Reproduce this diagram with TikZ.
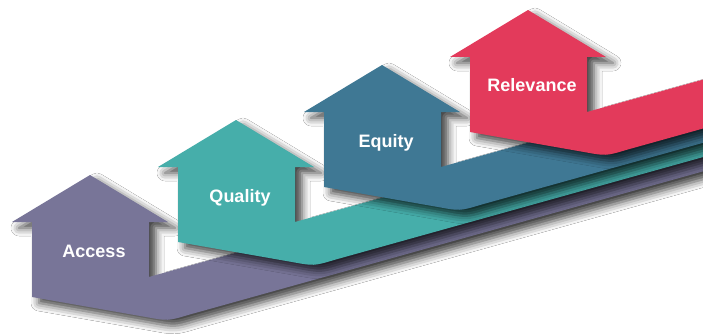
\documentclass[tikz,border=0pt]{standalone}
\usepackage{fontspec}
\setmainfont{Liberation Sans}
\usetikzlibrary{shadows.blur}

\definecolor{accesscol}{HTML}{787598}
\definecolor{qualitycol}{HTML}{46AEAA}
\definecolor{equitycol}{HTML}{3F7894}
\definecolor{relevancecol}{HTML}{E33A5B}

\tikzset{
  stepshadow/.style={blur shadow={shadow xshift=7pt, shadow yshift=-6pt,
      shadow blur radius=8pt, shadow opacity=75}},
  steplabel/.style={text=white, font=\fontsize{18}{21}\selectfont\bfseries,
      anchor=base, inner sep=0pt}
}

% Hauspfeil mit Band: Spitze x, Spitze y, Farbe, Name, Text
\newcommand{\stepArrow}[5]{%
  \begin{scope}[shift={(#1,#2)}]
    \path[fill=#3, stepshadow]
      (0,0) -- (-78,47) -- (-58,47) -- (-58,122)
      -- (56,142) .. controls (78,146) .. (98,140)
      -- (650,-14) -- (650,-63) -- (59,102) -- (59,47) -- (78,47) -- cycle;
    \node[steplabel] (#4) at (4,82) {#5};
  \end{scope}}

\begin{document}
\begin{tikzpicture}[x=1pt, y=-1pt]
  % Rahmen
  \fill[white] (0,0) rectangle (703,334);
  \useasboundingbox (0,0) rectangle (703,334);
  \clip (0,0) rectangle (703,334);

  % Stufen von unten nach oben
  \stepArrow{90}{175}{accesscol}{access}{Access}
  \stepArrow{236}{120}{qualitycol}{quality}{Quality}
  \stepArrow{382}{65}{equitycol}{equity}{Equity}
  \stepArrow{528}{10}{relevancecol}{relevance}{Relevance}
\end{tikzpicture}
\end{document}
